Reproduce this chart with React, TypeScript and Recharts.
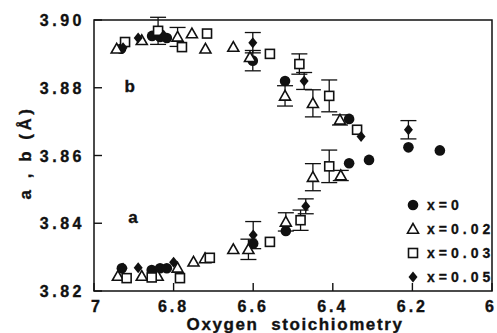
import React from 'react';
import {
  ScatterChart, Scatter, XAxis, YAxis, ErrorBar, ReferenceArea, ReferenceDot, Legend,
} from 'recharts';

// oxygen stoichiometry vs lattice parameter
const X0_PTS = [
  [6.932, 3.8915], [6.854, 3.8953], [6.834, 3.895], [6.817, 3.8947], [6.601, 3.888],
  [6.52, 3.882], [6.359, 3.8708], [6.21, 3.8624], [6.131, 3.8615],
  [6.93, 3.8267], [6.855, 3.8262], [6.834, 3.8267], [6.817, 3.8267], [6.6, 3.834],
  [6.518, 3.8377], [6.359, 3.8577], [6.309, 3.8587],
];
const X002_PTS = [
  [6.943, 3.8915], [6.88, 3.894], [6.79, 3.895], [6.754, 3.896], [6.72, 3.8915],
  [6.65, 3.892], [6.608, 3.889], [6.52, 3.8776], [6.45, 3.8754], [6.382, 3.8705],
  [6.94, 3.8244], [6.88, 3.8244], [6.84, 3.8244], [6.79, 3.8268], [6.75, 3.8286],
  [6.721, 3.8296], [6.65, 3.8323], [6.612, 3.8323], [6.518, 3.8404], [6.45, 3.8536], [6.38, 3.8541],
];
const X003_PTS = [
  [6.922, 3.8935], [6.839, 3.8968], [6.779, 3.892], [6.716, 3.896], [6.558, 3.89],
  [6.484, 3.887], [6.409, 3.8776], [6.339, 3.8676],
  [6.918, 3.8238], [6.855, 3.824], [6.784, 3.8238], [6.709, 3.8298], [6.558, 3.8345],
  [6.481, 3.8409], [6.409, 3.8568],
];
const X005_PTS = [
  [6.927, 3.8918], [6.889, 3.8947], [6.825, 3.8955], [6.601, 3.8933], [6.472, 3.882],
  [6.329, 3.8656], [6.21, 3.8676],
  [6.927, 3.8268], [6.889, 3.8269], [6.8, 3.8285], [6.6, 3.8365], [6.468, 3.845],
];
// [stoichiometry, value, +/- error]
const ERRORS = [
  [6.839, 3.8968, 0.004], [6.79, 3.895, 0.0028], [6.601, 3.8933, 0.003], [6.601, 3.888, 0.003],
  [6.52, 3.8776, 0.003], [6.472, 3.882, 0.0025], [6.484, 3.887, 0.003], [6.45, 3.8754, 0.004],
  [6.409, 3.8776, 0.0047], [6.382, 3.8705, 0.0015], [6.21, 3.8676, 0.0027],
  [6.612, 3.8323, 0.003], [6.6, 3.8365, 0.004], [6.518, 3.8404, 0.0027], [6.481, 3.8409, 0.003],
  [6.468, 3.845, 0.0022], [6.45, 3.8536, 0.004], [6.409, 3.8568, 0.0048], [6.38, 3.8541, 0.0015],
];
const X_TICKS = [7, 6.8, 6.6, 6.4, 6.2, 6];
const Y_TICKS = [3.82, 3.84, 3.86, 3.88, 3.9];
const BRANCH_LABELS = [
  { text: 'b', o: 6.91, c: 3.8806 },
  { text: 'a', o: 6.902, c: 3.8418 },
];

const FONT = '"Liberation Sans", Arial, Helvetica, sans-serif';
const INK = '#111';

const toRows = (pts: number[][]) => pts.map(([o, c]) => ({ o, c }));
const errRows = ERRORS.map(([o, c, e]) => ({ o, c, e }));

const Dot = ({ cx, cy }: any) => <circle cx={cx} cy={cy} r={5.3} fill={INK} />;
const Tri = ({ cx, cy }: any) => (
  <polygon
    points={`${cx},${cy - 5.5} ${cx - 5.5},${cy + 4.2} ${cx + 5.5},${cy + 4.2}`}
    fill="#fff" stroke={INK} strokeWidth={1.6}
  />
);
const Sq = ({ cx, cy }: any) => (
  <rect x={cx - 4.5} y={cy - 4.5} width={9} height={9} fill="#fff" stroke={INK} strokeWidth={1.6} />
);
const Dia = ({ cx, cy }: any) => (
  <polygon points={`${cx},${cy - 5.5} ${cx + 4.5},${cy} ${cx},${cy + 5.5} ${cx - 4.5},${cy}`} fill={INK} />
);

const LEGEND_ROWS = [
  { label: 'x=0', Mark: Dot },
  { label: 'x=0.02', Mark: Tri },
  { label: 'x=0.03', Mark: Sq },
  { label: 'x=0.05', Mark: Dia },
];

const heavy = { stroke: INK, strokeWidth: 0.35 };

function LegendBox() {
  return (
    <div style={{ fontFamily: FONT, fontWeight: 'bold', fontSize: 14, color: INK }}>
      {LEGEND_ROWS.map(({ label, Mark }) => (
        <div key={label} style={{ display: 'flex', alignItems: 'center', height: 24 }}>
          <svg width={14} height={14} style={{ marginRight: 7 }}>
            <Mark cx={7} cy={7} />
          </svg>
          <span style={{ letterSpacing: 4, WebkitTextStroke: '0.3px #111' }}>{label}</span>
        </div>
      ))}
    </div>
  );
}

function XTick({ x, y, payload }: any) {
  const v = payload.value;
  const txt = v === 7 || v === 6 ? String(v) : v.toFixed(1);
  const shift = v === 6 ? -1 : v === 7 ? 3 : 0;
  return (
    <g>
      <line x1={x} x2={x} y1={y} y2={y - 8} stroke={INK} strokeWidth={1.4} />
      <text x={x + shift} y={y + 21} textAnchor="middle" fontFamily={FONT} fontWeight="bold"
        fontSize={16} letterSpacing={3} fill={INK} {...heavy}>{txt}</text>
    </g>
  );
}

function YTick({ x, y, payload }: any) {
  return (
    <g>
      <line x1={x} x2={x + 8} y1={y} y2={y} stroke={INK} strokeWidth={1.4} />
      <text x={x - 9} y={y + 6} textAnchor="end" fontFamily={FONT} fontWeight="bold"
        fontSize={16} letterSpacing={3.5} fill={INK} {...heavy}>{payload.value.toFixed(2)}</text>
    </g>
  );
}

export default function App() {
  return (
    <div style={{ position: 'absolute', left: 0, top: 0, width: 497, height: 333, background: '#fff' }}>
      <ScatterChart width={497} height={333} margin={{ top: 20, right: 5, bottom: 0, left: 0 }}>
        <XAxis
          type="number" dataKey="o" domain={[6, 7]} reversed ticks={X_TICKS} height={42}
          axisLine={false} tickLine={false} tickSize={0} tickMargin={0} tick={<XTick />}
          allowDataOverflow interval={0}
          label={{
            content: ({ viewBox }: any) => (
              <text x={viewBox.x + viewBox.width / 2 + 2} y={viewBox.y + 39} textAnchor="middle"
                fontFamily={FONT} fontWeight="bold" fontSize={17} letterSpacing={1.6} fill={INK}
                style={{ whiteSpace: 'pre' }} {...heavy}>
                {'Oxygen  stoichiometry'}
              </text>
            ),
          }}
        />
        <YAxis
          type="number" dataKey="c" domain={[3.82, 3.9]} ticks={Y_TICKS} width={94}
          axisLine={false} tickLine={false} tickSize={0} tickMargin={0} tick={<YTick />}
          allowDataOverflow interval={0}
          label={{
            content: ({ viewBox }: any) => {
              const cx = viewBox.x + 25;
              const cy = viewBox.y + viewBox.height / 2 - 3;
              return (
                <text x={cx} y={cy} transform={`rotate(-90 ${cx} ${cy})`} textAnchor="middle"
                  dominantBaseline="central" fontFamily={FONT} fontWeight="bold" fontSize={17}
                  letterSpacing={3.5} fill={INK} {...heavy}>
                  a , b (Å)
                </text>
              );
            },
          }}
        />
        <ReferenceArea x1={7} x2={6} y1={3.82} y2={3.9} fill="none" stroke={INK} strokeWidth={1.5} />
        {BRANCH_LABELS.map((b) => (
          <ReferenceDot key={b.text} x={b.o} y={b.c} r={0} stroke="none" fill="none"
            label={{ value: b.text, position: 'center', fontFamily: FONT, fontWeight: 'bold', fontSize: 17, fill: INK, stroke: INK, strokeWidth: 0.35 }} />
        ))}
        <Scatter name="x=0" data={toRows(X0_PTS)} shape={(p: any) => <Dot cx={p.cx} cy={p.cy} />} isAnimationActive={false} />
        <Scatter name="x=0.02" data={toRows(X002_PTS)} shape={(p: any) => <Tri cx={p.cx} cy={p.cy} />} isAnimationActive={false} />
        <Scatter name="x=0.03" data={toRows(X003_PTS)} shape={(p: any) => <Sq cx={p.cx} cy={p.cy} />} isAnimationActive={false} />
        <Scatter name="x=0.05" data={toRows(X005_PTS)} shape={(p: any) => <Dia cx={p.cx} cy={p.cy} />} isAnimationActive={false} />
        <Scatter name="err" data={errRows} shape={() => <g />} isAnimationActive={false} legendType="none">
          <ErrorBar dataKey="e" direction="y" width={8} stroke={INK} strokeWidth={1.3} isAnimationActive={false} />
        </Scatter>
        <Legend layout="vertical" align="center" verticalAlign="middle" content={() => <LegendBox />}
          wrapperStyle={{ position: 'absolute', left: 406, top: 193, width: 'auto', height: 'auto' }} />
      </ScatterChart>
    </div>
  );
}
